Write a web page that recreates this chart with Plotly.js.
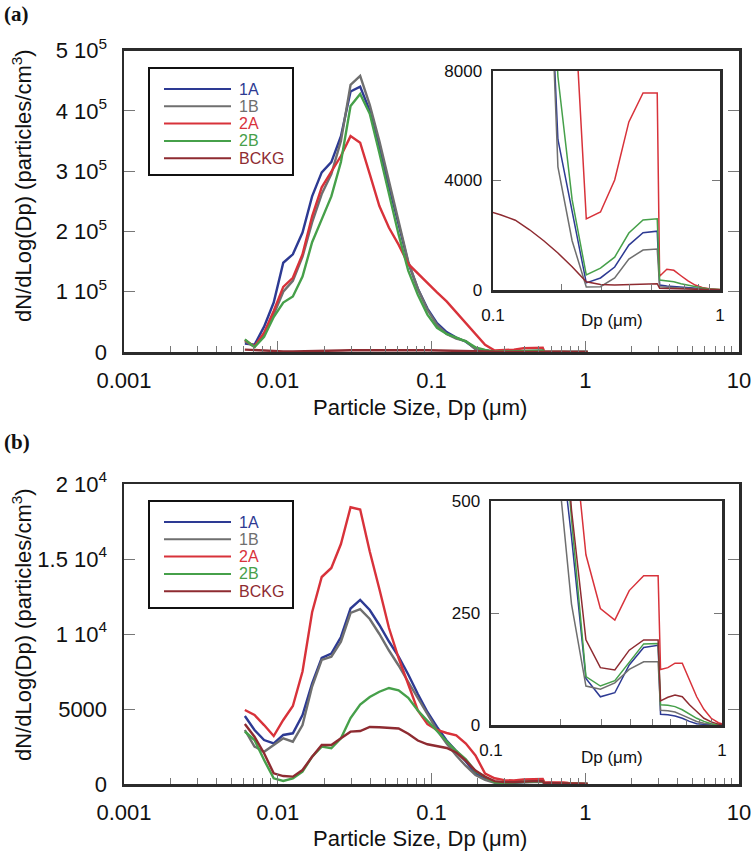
<!DOCTYPE html>
<html>
<head>
<meta charset="utf-8">
<script src="https://cdn.plot.ly/plotly-3.0.1.min.js"></script>
<style>
  html, body { margin: 0; padding: 0; background: #fff; }
  #chart { width: 752px; height: 853px; }
</style>
</head>
<body>
<div id="chart"></div>
<script>
// particle diameter (um): SMPS channels, then the optical counter channels
const dp = [0.00611, 0.00706, 0.00815, 0.00941, 0.01086, 0.01254, 0.01449, 0.01673, 0.01932, 0.02231,
            0.02576, 0.02975, 0.03436, 0.03967, 0.04581, 0.0529, 0.0611, 0.0706, 0.0815, 0.0941,
            0.1086, 0.1254, 0.1449, 0.1673, 0.1932, 0.2231, 0.2576, 0.2975, 0.3436, 0.3967,
            0.4581, 0.529,
            0.542, 0.583, 0.626, 0.673, 0.723, 0.777, 0.835, 0.898, 0.965, 1.037];

const names = ["1A", "1B", "2A", "2B", "BCKG"];
const colors = ["#2d3a93", "#6f6f6f", "#d8323a", "#46a04a", "#8e2b31"];

// panel (a)
const a1A = [14000, 12000, 42000, 82000, 148000, 162000, 198000, 258000, 298000, 315000,
             358000, 432000, 440000, 400000, 339000, 275000, 210000, 148000, 105000, 72000,
             48000, 33000, 24000, 17000, 5500, 2900, 260, 440, 840, 1640,
             2090, 2150,
             180, 150, 130, 100, 70, 45, 25, 15, 8, 3];
const a1B = [18000, 9000, 30000, 62000, 100000, 118000, 158000, 215000, 262000, 295000,
             350000, 443000, 458000, 410000, 350000, 285000, 215000, 150000, 105000, 70000,
             45000, 30000, 22000, 18000, 4500, 1800, 110, 120, 440, 1130,
             1460, 1500,
             120, 100, 85, 70, 50, 30, 20, 10, 5, 2];
const a2A = [20000, 9000, 32000, 68000, 108000, 123000, 162000, 225000, 273000, 300000,
             325000, 358000, 347000, 295000, 242000, 206000, 178000, 146000, 130000, 115000,
             99000, 84000, 66000, 47000, 30000, 12000, 2600, 2850, 4020, 6140,
             7200, 7200,
             500, 760, 720, 520, 330, 180, 90, 50, 25, 10];
const a2B = [21000, 8000, 25000, 58000, 82000, 92000, 125000, 182000, 220000, 258000,
             315000, 408000, 428000, 395000, 330000, 262000, 195000, 135000, 95000, 62000,
             40000, 30000, 24000, 17500, 7800, 3300, 550, 800, 1200, 2080,
             2560, 2600,
             365, 330, 300, 230, 170, 110, 70, 40, 20, 8];
const aBCKG = [4000, 3000, 2200, 1500, 1000, 800, 900, 1300, 1800, 2200,
               2500, 2800, 3000, 3200, 3300, 3300, 3200, 3100, 3000, 2900,
               2740, 2550, 2200, 1800, 1350, 850, 300, 200, 180, 190,
               220, 230,
               60, 50, 40, 30, 25, 20, 15, 10, 5, 2];

// panel (b)
const b1A = [4530, 3600, 2930, 2700, 3270, 3380, 4600, 6700, 8400, 8700,
             9800, 11700, 12270, 11600, 10600, 9500, 8500, 7300, 6000, 4800,
             3800, 2900, 2200, 1500, 700, 420, 104, 63, 72, 134,
             173, 178,
             24, 23, 20, 15, 8, 3, 1, 0, 0, 0];
const b1B = [3600, 2500, 2150, 2600, 3050, 2820, 3930, 6500, 8270, 8490,
             9490, 11400, 11650, 11000, 10000, 8900, 7900, 6800, 5700, 4600,
             3600, 2700, 1900, 1200, 600, 270, 87, 80, 94, 124,
             141, 141,
             33, 32, 29, 22, 15, 8, 4, 2, 0, 0];
const b2A = [4930, 4600, 3930, 3200, 4270, 5200, 7500, 11450, 13800, 14400,
             16000, 18450, 18300, 15500, 13000, 10400, 8400, 6600, 4900, 4000,
             3600, 3400, 3250, 2700, 1900, 700, 380, 260, 234, 300,
             333, 333,
             124, 128, 138, 138, 100, 63, 35, 15, 5, 0];
const b2B = [3500, 2930, 1600, 380, 200, 380, 820, 1820, 2490, 2380,
             3050, 4400, 5300, 5800, 6150, 6400, 6250, 5750, 4900, 4200,
             3500, 2850, 2200, 1650, 850, 460, 108, 87, 99, 141,
             181, 182,
             45, 44, 41, 34, 25, 15, 8, 3, 0, 0];
const bBCKG = [4000, 3150, 2050, 710, 530, 490, 930, 1820, 2600, 2600,
               3050, 3490, 3530, 3800, 3780, 3760, 3700, 3350, 2900, 2650,
               2500, 2400, 2100, 1550, 900, 480, 190, 128, 123, 167,
               190, 190,
               54, 62, 67, 63, 45, 30, 15, 7, 2, 0];

const mainXTicks = [0.001, 0.01, 0.1, 1, 10];
const mainXText = ["0.001", "0.01", "0.1", "1", "10"];
const aYTicks = [0, 100000, 200000, 300000, 400000, 500000];
const aYText = ["0", "1 10<sup>5</sup>", "2 10<sup>5</sup>", "3 10<sup>5</sup>", "4 10<sup>5</sup>", "5 10<sup>5</sup>"];
const bYTicks = [0, 5000, 10000, 15000, 20000];
const bYText = ["0", "5000", "1 10<sup>4</sup>", "1.5 10<sup>4</sup>", "2 10<sup>4</sup>"];
const insetATicks = [0, 4000, 8000];
const insetBTicks = [0, 250, 500];

const W = 752, H = 853;
const FONT = "Liberation Sans, Arial, sans-serif";
function fx(p) { return p / W; }
function fy(p) { return 1 - p / H; }

// minor ticks 2..9 in every decade
const minorMain = [];
for (let e = -3; e < 1; e++) for (let m = 2; m <= 9; m++) minorMain.push(m * Math.pow(10, e));
const minorInset = [];
for (let m = 2; m <= 9; m++) minorInset.push(m / 10);

function lines(series, xa, ya, width) {
    return series.map((s, i) => ({
        x: dp, y: s, xaxis: xa, yaxis: ya, type: "scatter", mode: "lines",
        line: { color: colors[i], width: width }, showlegend: false, hoverinfo: "skip"
    }));
}

const aSeries = [a1A, a1B, a2A, a2B, aBCKG];
const bSeries = [b1A, b1B, b2A, b2B, bBCKG];

const data = [].concat(
    lines(aSeries, "x", "y", 2.4),
    lines(aSeries, "x2", "y2", 1.5),
    lines(bSeries, "x3", "y3", 2.4),
    lines(bSeries, "x4", "y4", 1.5)
);

const frame = { showline: true, linecolor: "#2b2b2b", showgrid: false, zeroline: false };

function mainX(dom, anchor) {
    return Object.assign({}, frame, {
        type: "log", domain: dom, anchor: anchor, range: [-3, 1],
        tickmode: "array", tickvals: mainXTicks, ticktext: mainXText,
        ticks: "inside", ticklen: 11, tickwidth: 1, tickcolor: "#777",
        linewidth: 2.5, mirror: true, ticklabelstandoff: 7,
        tickfont: { family: FONT, size: 22, color: "#111" },
        minor: { ticks: "inside", ticklen: 6, tickwidth: 1, tickcolor: "#777", tickmode: "array", tickvals: minorMain, showgrid: false }
    });
}
function mainY(dom, anchor, range, vals, text) {
    return Object.assign({}, frame, {
        domain: dom, anchor: anchor, range: range,
        tickmode: "array", tickvals: vals, ticktext: text,
        ticks: "inside", ticklen: 11, tickwidth: 1, tickcolor: "#777",
        linewidth: 2.5, mirror: "ticks", ticklabelstandoff: 10,
        tickfont: { family: FONT, size: 22, color: "#111" }
    });
}
function insetX(dom, anchor) {
    return Object.assign({}, frame, {
        type: "log", domain: dom, anchor: anchor, range: [-1, 0],
        tickmode: "array", tickvals: [0.1, 1], ticktext: ["0.1", "1"],
        ticks: "inside", ticklen: 6, tickwidth: 1, tickcolor: "#777",
        linewidth: 2.5, mirror: true, ticklabelstandoff: 8,
        tickfont: { family: FONT, size: 17, color: "#111" },
        minor: { ticks: "inside", ticklen: 6, tickwidth: 1, tickcolor: "#777", tickmode: "array", tickvals: minorInset, showgrid: false }
    });
}
function insetY(dom, anchor, range, vals) {
    return Object.assign({}, frame, {
        domain: dom, anchor: anchor, range: range,
        tickmode: "array", tickvals: vals, ticktext: vals.map(String),
        ticks: "inside", ticklen: 8, tickwidth: 1, tickcolor: "#777",
        linewidth: 2.5, mirror: "ticks", ticklabelstandoff: 5,
        tickfont: { family: FONT, size: 17, color: "#111" }
    });
}

const annotations = [];
const shapes = [];
function note(text, x, y, size, opts) {
    annotations.push(Object.assign({
        text: text, xref: "paper", yref: "paper", x: fx(x), y: fy(y),
        xanchor: "center", yanchor: "middle", showarrow: false,
        font: { family: FONT, size: size, color: "#111" }
    }, opts || {}));
}

// panel letters and titles
const SERIF = "Liberation Serif, Times New Roman, serif";
note("<b>(a)</b>", 2, 14, 21, { xanchor: "left", font: { family: SERIF, size: 21, color: "#111" } });
note("<b>(b)</b>", 2, 442, 21, { xanchor: "left", font: { family: SERIF, size: 21, color: "#111" } });
note("Particle Size, Dp (μm)", 420, 407, 22);
note("Particle Size, Dp (μm)", 420, 838, 22);
note("dN/dLog(Dp) (particles/cm<sup>3</sup>)", 22, 186, 22, { textangle: -90 });
note("dN/dLog(Dp) (particles/cm<sup>3</sup>)", 22, 625, 22, { textangle: -90 });
note("Dp (μm)", 612, 320, 17);
note("Dp (μm)", 612, 757, 17);

// hand-built legends (long key lines, coloured labels)
function legend(top) {
    shapes.push({ type: "rect", xref: "paper", yref: "paper", x0: fx(149), x1: fx(293), y0: fy(top), y1: fy(top + 107),
                  line: { color: "#111", width: 2 }, fillcolor: "rgba(0,0,0,0)" });
    names.forEach((n, i) => {
        const ry = top + 21 + i * 17.3;
        shapes.push({ type: "line", xref: "paper", yref: "paper", x0: fx(164), x1: fx(231), y0: fy(ry), y1: fy(ry),
                      line: { color: colors[i], width: 2 } });
        note(n, 237, ry, 16, { xanchor: "left", font: { family: FONT, size: 16, color: colors[i] } });
    });
}
legend(68);
legend(501);

const layout = {
    width: W, height: H,
    margin: { l: 0, r: 0, t: 0, b: 0 },
    paper_bgcolor: "#fff", plot_bgcolor: "#fff",
    showlegend: false,
    xaxis: mainX([fx(124), fx(739)], "y"),
    yaxis: mainY([fy(352), fy(50.5)], "x", [0, 500000], aYTicks, aYText),
    xaxis2: insetX([fx(493), fx(720)], "y2"),
    yaxis2: insetY([fy(290), fy(71)], "x2", [0, 8000], insetATicks),
    xaxis3: mainX([fx(124), fx(739)], "y3"),
    yaxis3: mainY([fy(784), fy(484)], "x3", [0, 20000], bYTicks, bYText),
    xaxis4: insetX([fx(491), fx(722)], "y4"),
    yaxis4: insetY([fy(725), fy(501)], "x4", [0, 500], insetBTicks),
    annotations: annotations,
    shapes: shapes
};

Plotly.newPlot("chart", data, layout, { staticPlot: true, displayModeBar: false });
</script>
</body>
</html>
